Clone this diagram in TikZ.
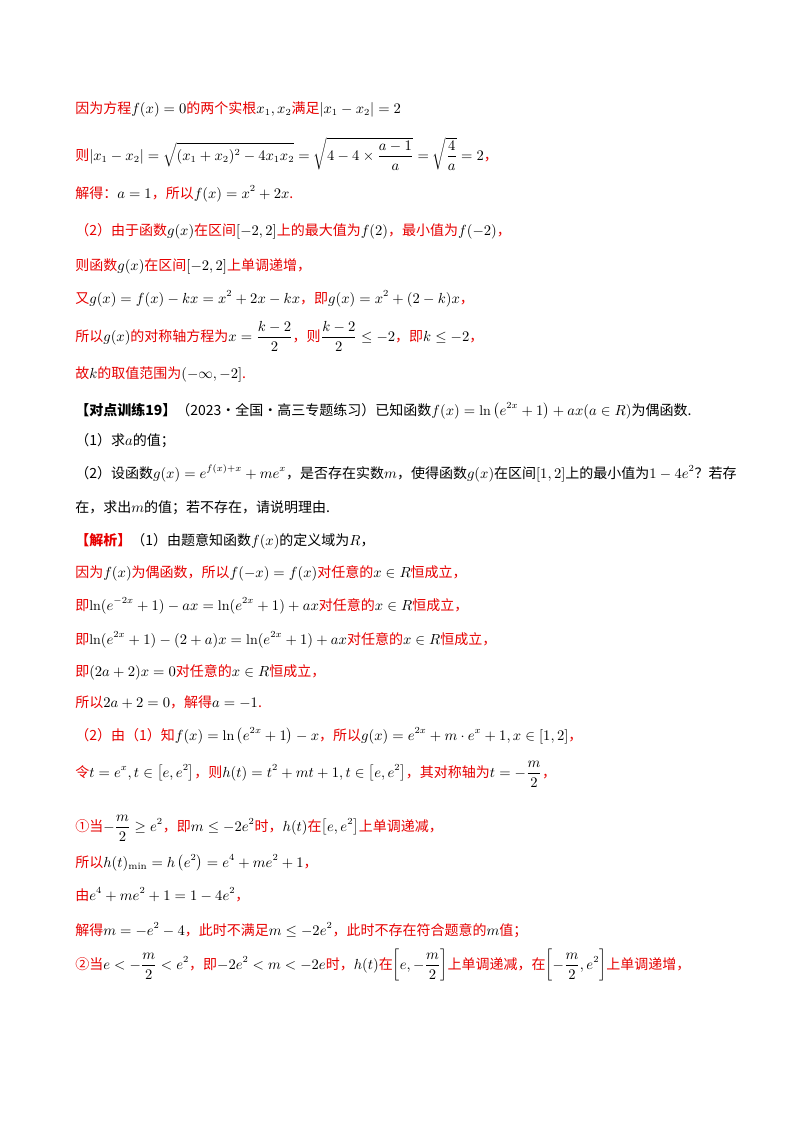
\documentclass[tikz,border=0pt]{standalone}
\usepackage{fontspec}
\newfontfamily\cjk{Noto Sans CJK SC}
\definecolor{rd}{RGB}{230,0,0}
\newcommand\m[1]{\textcolor{black}{$\displaystyle #1$}}
\begin{document}
\begin{tikzpicture}[x=0.75pt,y=-0.75pt,
  ln/.style={anchor=base west,inner sep=0pt,text=rd,font=\cjk\fontsize{10.5}{12}\selectfont},
  bk/.style={ln,text=black}]
\useasboundingbox (0,0) rectangle (800,1132);
\node[ln] (l1) at (75,113) {因为方程\m{f(x)=0}的两个实根\m{x_1,x_2}满足\m{|x_1-x_2|=2}};
\node[ln] (l2) at (75,160) {则\m{|x_1-x_2|=\sqrt{(x_1+x_2)^2-4x_1x_2}=\sqrt{4-4\times\frac{a-1}{a}}=\sqrt{\frac{4}{a}}=2}，};
\node[ln] (l3) at (75,198) {解得：\m{a=1}，所以\m{f(x)=x^2+2x}.};
\node[ln] (l4) at (75,235) {（2）由于函数\m{g(x)}在区间\m{[-2,2]}上的最大值为\m{f(2)}，最小值为\m{f(-2)}，};
\node[ln] (l5) at (75,270) {则函数\m{g(x)}在区间\m{[-2,2]}上单调递增，};
\node[ln] (l6) at (75,303) {又\m{g(x)=f(x)-kx=x^2+2x-kx}，即\m{g(x)=x^2+(2-k)x}，};
\node[ln] (l7) at (75,341) {所以\m{g(x)}的对称轴方程为\m{x=\frac{k-2}{2}}，则\m{\frac{k-2}{2}\le -2}，即\m{k\le -2}，};
\node[ln] (l8) at (75,378) {故\m{k}的取值范围为\m{(-\infty,-2]}.};
\node[bk] (l9) at (75,415) {\textbf{【对点训练19】}（2023·全国·高三专题练习）已知函数\m{f(x)=\ln\left(e^{2x}+1\right)+ax(a\in R)}为偶函数.};
\node[bk] (l10) at (75,445) {（1）求\m{a}的值；};
\node[bk] (l11) at (75,478) {（2）设函数\m{g(x)=e^{f(x)+x}+me^x}，是否存在实数\m{m}，使得函数\m{g(x)}在区间\m{[1,2]}上的最小值为\m{1-4e^2}？若存};
\node[bk] (l12) at (75,512) {在，求出\m{m}的值；若不存在，请说明理由.};
\node[ln] (l13) at (75,545) {\textbf{【解析】}\textcolor{black}{（1）由题意知函数\m{f(x)}的定义域为\m{R}，}};
\node[ln] (l14) at (75,577) {因为\m{f(x)}为偶函数，所以\m{f(-x)=f(x)}对任意的\m{x\in R}恒成立，};
\node[ln] (l15) at (75,610) {即\m{\ln(e^{-2x}+1)-ax=\ln(e^{2x}+1)+ax}对任意的\m{x\in R}恒成立，};
\node[ln] (l16) at (75,644) {即\m{\ln(e^{2x}+1)-(2+a)x=\ln(e^{2x}+1)+ax}对任意的\m{x\in R}恒成立，};
\node[ln] (l17) at (75,676) {即\m{(2a+2)x=0}对任意的\m{x\in R}恒成立，};
\node[ln] (l18) at (75,707) {所以\m{2a+2=0}，解得\m{a=-1}.};
\node[ln] (l19) at (75,740) {（2）由（1）知\m{f(x)=\ln\left(e^{2x}+1\right)-x}，所以\m{g(x)=e^{2x}+m\cdot e^x+1,x\in[1,2]}，};
\node[ln] (l20) at (75,777) {令\m{t=e^x,t\in\left[e,e^2\right]}，则\m{h(t)=t^2+mt+1,t\in\left[e,e^2\right]}，其对称轴为\m{t=-\frac{m}{2}}，};
\node[ln] (l21) at (75,831) {①当\m{-\frac{m}{2}\ge e^2}，即\m{m\le -2e^2}时，\m{h(t)}在\m{\left[e,e^2\right]}上单调递减，};
\node[ln] (l22) at (75,867) {所以\m{h(t)_{\min}=h\left(e^2\right)=e^4+me^2+1}，};
\node[ln] (l23) at (75,900) {由\m{e^4+me^2+1=1-4e^2}，};
\node[ln] (l24) at (75,935) {解得\m{m=-e^2-4}，此时不满足\m{m\le -2e^2}，此时不存在符合题意的\m{m}值；};
\node[ln] (l25) at (75,969) {②当\m{e<-\frac{m}{2}<e^2}，即\m{-2e^2<m<-2e}时，\m{h(t)}在\m{\left[e,-\frac{m}{2}\right]}上单调递减，在\m{\left[-\frac{m}{2},e^2\right]}上单调递增，};
\end{tikzpicture}
\end{document}
